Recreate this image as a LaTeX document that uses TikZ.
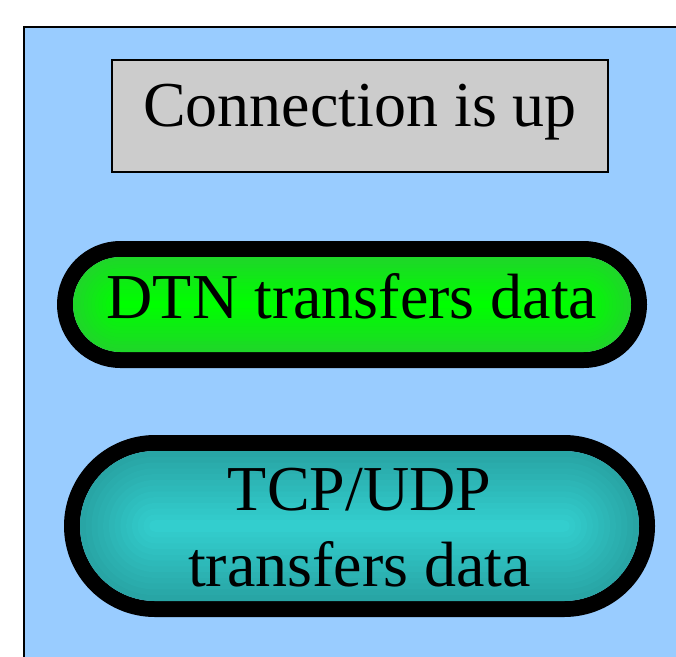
\documentclass[tikz,border=0pt]{standalone}
\usepackage{fontspec}
\setmainfont{Liberation Serif}
\definecolor{bgblue}{RGB}{153,204,255}
\definecolor{boxgray}{RGB}{204,204,204}
\definecolor{greenC}{RGB}{0,255,0}
\definecolor{greenE}{RGB}{30,215,40}
\definecolor{tealC}{RGB}{51,206,206}
\definecolor{tealE}{RGB}{40,165,165}
\newcommand\gradstadium[6]{%
  \pgfmathsetmacro\sh{(#4-#2)/2}%
  \pgfmathsetmacro\shb{\sh+8-0.01}%
  \draw[line width=16pt, rounded corners=\shb pt] (#1-8,#2-8) rectangle (#3+8,#4+8);
  \foreach \k in {0,...,12}{%
    \pgfmathsetmacro\d{\k*\sh/13}%
    \pgfmathsetmacro\r{max(\sh-\d-0.01,0.5)}%
    \pgfmathtruncatemacro\p{\k*100/12}%
    \fill[#6!\p!#5, rounded corners=\r pt] (#1+\d,#2+\d) rectangle (#3-\d,#4-\d);
  }%
}
\begin{document}
\begin{tikzpicture}[x=1pt,y=-1pt,
  bigtext/.style={font=\fontsize{64}{76}\selectfont, inner sep=0pt}]
\useasboundingbox (0,0) rectangle (676,656);
\clip (0,0) rectangle (676,656);
\fill[white] (0,0) rectangle (676,656);
\draw[line width=2pt, fill=bgblue] (24,27) rectangle (720,720);
\node[bigtext, draw=black, line width=1.5pt, fill=boxgray, minimum width=496pt,
      text height=67pt, text depth=45pt, anchor=north] (conn) at (360,59) {Connection is up};
\gradstadium{73}{257}{631}{352}{greenE}{greenC}
\node[bigtext, anchor=base] (dtn) at (352,318) {DTN transfers data};
\gradstadium{80}{451}{639}{601}{tealE}{tealC}
\node[bigtext, align=center, anchor=base] (tcp) at (359.5,586) {TCP/UDP\\transfers data};
\end{tikzpicture}
\end{document}
